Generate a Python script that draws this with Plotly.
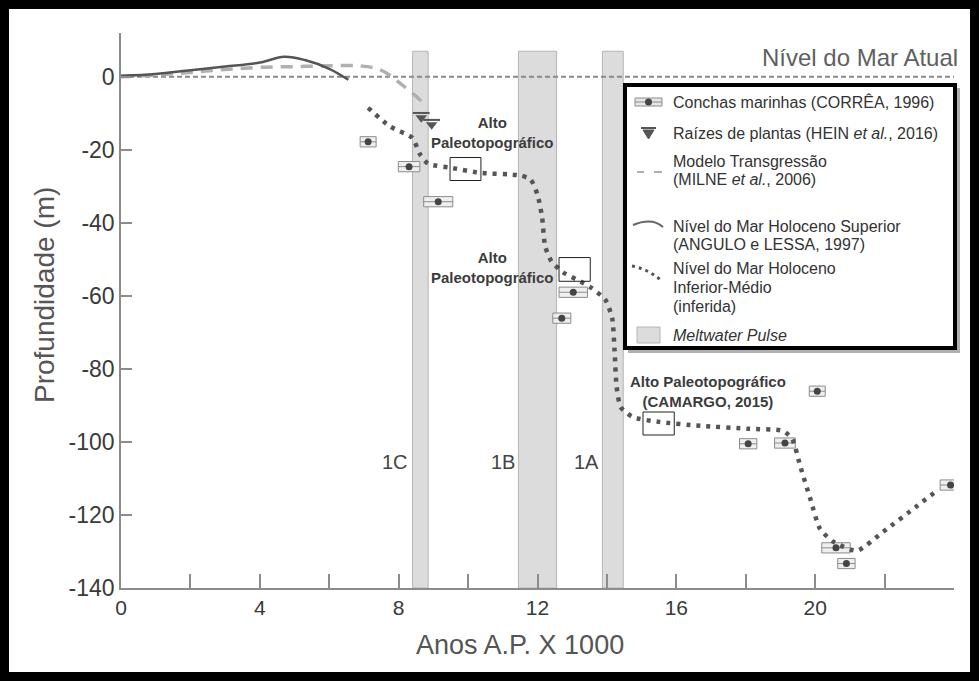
import plotly.graph_objects as go

# ---------------- data ----------------
x_tick_vals = [0, 2, 4, 6, 8, 10, 12, 14, 16, 18, 20, 22, 24]
x_tick_text = ["0", "", "4", "", "8", "", "12", "", "16", "", "20", "", ""]
y_tick_vals = [0, -20, -40, -60, -80, -100, -120, -140]
y_tick_text = ["0", "-20", "-40", "-60", "-80", "-100", "-120", "-140"]

# Meltwater pulses (ka BP)
pulse_names = ["1C", "1B", "1A"]
pulse_start = [8.4, 11.45, 13.87]
pulse_end = [8.85, 12.55, 14.47]
pulse_label_x = [7.9, 11.0, 13.4]
pulse_label_y = -105.5
pulse_top = 7.0

# Marine shells (CORRÊA, 1996)
shell_age = [7.12, 8.30, 9.14, 12.70, 13.03, 18.07, 19.13, 20.06, 20.60, 20.90, 23.90]
shell_depth = [-17.8, -24.6, -34.2, -66.1, -59.0, -100.5, -100.3, -86.1, -129.0, -133.3, -111.8]
shell_halfage = [0.23, 0.31, 0.42, 0.26, 0.41, 0.25, 0.30, 0.23, 0.41, 0.25, 0.30]
shell_halfdepth = 1.4

# Plant roots (HEIN et al., 2016)
root_age = [8.65, 8.95]
root_depth = [-11.2, -13.1]

# Upper Holocene sea level (ANGULO e LESSA, 1997)
angulo_age = [0, 1, 2, 3, 4, 4.7, 5.3, 6.0, 6.55]
angulo_level = [0.3, 0.8, 1.8, 2.8, 3.9, 5.5, 4.6, 2.2, -0.8]

# Transgression model (MILNE et al., 2006)
milne_age = [0, 1, 2, 3, 4, 5, 6, 6.9, 7.5, 8.1, 8.7]
milne_level = [0, 0.5, 1.2, 2.0, 2.6, 2.8, 3.0, 3.0, 1.8, -2.2, -7.0]

# Lower-Middle Holocene sea level (inferred)
inferred_age = [7.12, 7.75, 8.39, 8.62, 8.85, 9.5, 10.35, 11.5, 11.8, 12.0, 12.13,
                12.22, 12.4, 12.74, 13.23, 13.55, 13.95, 14.15, 14.22, 14.28, 14.4,
                14.75, 15.5, 16.7, 18.1, 19.08, 19.34, 19.57, 19.86, 20.14, 20.52,
                21.2, 21.96, 22.94, 23.5]
inferred_level = [-8.5, -13.6, -16.7, -21.3, -23.8, -24.9, -26.3, -27.0, -28.1, -32.3, -38.3,
                  -46.4, -50.5, -53.6, -56.0, -57.8, -61.0, -66.0, -75.0, -85.0, -90.5,
                  -93.2, -94.5, -95.6, -96.4, -97.0, -99.2, -106.6, -115.6, -123.8, -127.3,
                  -129.8, -124.6, -117.5, -113.4]

# Paleotopographic highs
alto_text = ["Alto<br>Paleotopográfico", "Alto<br>Paleotopográfico",
             "Alto Paleotopográfico<br>(CAMARGO, 2015)"]
alto_label_x = [10.69, 10.69, 16.92]
alto_label_y = [-15.2, -52.2, -86.3]
alto_box_x0 = [9.48, 12.62, 15.04]
alto_box_x1 = [10.37, 13.52, 15.94]
alto_box_top = [-22.1, -49.5, -91.8]
alto_box_bottom = [-28.4, -56.0, -98.1]

current_level_age = [0, 24]
current_level = [0, 0]

# ---------------- layout geometry helpers (pixels -> paper) ----------------
L, R, T, B = 121, 25, 33, 93
W, H = 979, 681
PW, PH = W - L - R, H - T - B


def px(x):
    return (x - L) / PW


def py(y):
    return (H - B - y) / PH


FONT = "Liberation Sans, Arial, sans-serif"
GREY_TXT = "#444444"

fig = go.Figure()

# current sea level
fig.add_trace(go.Scatter(x=current_level_age, y=current_level, mode="lines",
                         line=dict(color="#8a8a8a", width=2, dash="5px,3px"),
                         hoverinfo="skip", showlegend=False))
# Milne model
fig.add_trace(go.Scatter(x=milne_age, y=milne_level, mode="lines",
                         line=dict(color="#b0b0b0", width=3.5, dash="12px,8px", shape="spline"),
                         showlegend=False))
# Angulo & Lessa
fig.add_trace(go.Scatter(x=angulo_age, y=angulo_level, mode="lines",
                         line=dict(color="#555555", width=2.5, shape="spline"),
                         showlegend=False))
# inferred sea level
fig.add_trace(go.Scatter(x=inferred_age, y=inferred_level, mode="lines",
                         line=dict(color="#555555", width=4.5, dash="4px,6px", shape="spline",
                                   smoothing=0.6),
                         showlegend=False))

shapes = []
# meltwater pulse bands
for x0, x1 in zip(pulse_start, pulse_end):
    shapes.append(dict(type="rect", xref="x", yref="y", x0=x0, x1=x1, y0=-140, y1=pulse_top,
                       fillcolor="#dcdcdc", line=dict(color="#b5b5b5", width=1), layer="below"))

# shell boxes (under the centre dots)
for a, d, h in zip(shell_age, shell_depth, shell_halfage):
    shapes.append(dict(type="rect", xref="x", yref="y", x0=a - h, x1=a + h,
                       y0=d - shell_halfdepth, y1=d + shell_halfdepth, layer="below",
                       fillcolor="#efefef", line=dict(color="#8c8c8c", width=1)))
    shapes.append(dict(type="line", xref="x", yref="y", x0=a - h, x1=a + h, y0=d, y1=d,
                       layer="below", line=dict(color="#8c8c8c", width=1)))

# paleotopographic high boxes
for x0, x1, y0, y1 in zip(alto_box_x0, alto_box_x1, alto_box_bottom, alto_box_top):
    shapes.append(dict(type="rect", xref="x", yref="y", x0=x0, x1=x1, y0=y0, y1=y1,
                       line=dict(color="#222222", width=1)))

fig.add_trace(go.Scatter(x=shell_age, y=shell_depth, mode="markers",
                         marker=dict(color="#444444", size=7), showlegend=False))

# plant roots: bar + downward triangle
fig.add_trace(go.Scatter(x=root_age, y=[d + 1.3 for d in root_depth], mode="markers",
                         marker=dict(symbol="line-ew", size=12, line=dict(color="#555555", width=2)),
                         showlegend=False))
fig.add_trace(go.Scatter(x=root_age, y=root_depth, mode="markers",
                         marker=dict(symbol="triangle-down", size=10, color="#555555"),
                         showlegend=False))

annotations = []
for name, x in zip(pulse_names, pulse_label_x):
    annotations.append(dict(x=x, y=pulse_label_y, xref="x", yref="y", text=name, showarrow=False,
                            font=dict(family=FONT, size=20, color=GREY_TXT)))

for t, x, y in zip(alto_text, alto_label_x, alto_label_y):
    annotations.append(dict(x=x, y=y, xref="x", yref="y", text="<b>" + t + "</b>", showarrow=False,
                            xanchor="center", yanchor="middle",
                            font=dict(family=FONT, size=15, color="#3c3c3c")))

annotations.append(dict(x=21.29, y=5.2, xref="x", yref="y", text="Nível do Mar Atual",
                        showarrow=False, font=dict(family=FONT, size=24, color="#606060")))

# axis titles
annotations.append(dict(x=px(44), y=py(295), xref="paper", yref="paper", text="Profundidade (m)",
                        textangle=-90, showarrow=False, xanchor="center", yanchor="middle",
                        font=dict(family=FONT, size=28, color="#555555")))
annotations.append(dict(x=px(520), y=py(645), xref="paper", yref="paper", text="Anos A.P. X 1000",
                        showarrow=False, xanchor="center", yanchor="middle",
                        font=dict(family=FONT, size=27, color="#555555")))

# ---------------- legend box ----------------
shapes.append(dict(type="rect", xref="paper", yref="paper", x0=px(628), x1=px(960), y0=py(353),
                   y1=py(88), fillcolor="#b0b0b0", line=dict(width=0)))
shapes.append(dict(type="rect", xref="paper", yref="paper", x0=px(625), x1=px(955), y0=py(348),
                   y1=py(85), fillcolor="white", line=dict(color="black", width=4)))

# shell symbol
shapes.append(dict(type="rect", xref="paper", yref="paper", x0=px(635), x1=px(662), y0=py(106),
                   y1=py(98), fillcolor="#e6e6e6", line=dict(color="#8c8c8c", width=1)))
shapes.append(dict(type="line", xref="paper", yref="paper", x0=px(635), x1=px(662), y0=py(102),
                   y1=py(102), line=dict(color="#8c8c8c", width=1)))
shapes.append(dict(type="circle", xref="paper", yref="paper", x0=px(645), x1=px(652), y0=py(105.5),
                   y1=py(98.5), fillcolor="#444444", line=dict(width=0)))
# root symbol
shapes.append(dict(type="path", xref="paper", yref="paper",
                   path=f"M {px(643)} {py(130)} L {px(654)} {py(130)} L {px(648.5)} {py(139)} Z",
                   fillcolor="#555555", line=dict(color="#555555", width=1)))
shapes.append(dict(type="line", xref="paper", yref="paper", x0=px(641), x1=px(656), y0=py(128),
                   y1=py(128), line=dict(color="#555555", width=2)))
# dashed model symbol
for a, b in [(637, 644), (654, 662)]:
    shapes.append(dict(type="line", xref="paper", yref="paper", x0=px(a), x1=px(b), y0=py(172),
                       y1=py(172), line=dict(color="#b0b0b0", width=2)))
# solid curve symbol
shapes.append(dict(type="path", xref="paper", yref="paper",
                   path=f"M {px(633)} {py(225)} Q {px(652)} {py(217)} {px(663)} {py(227)}",
                   line=dict(color="#666666", width=2)))
# dotted symbol
shapes.append(dict(type="path", xref="paper", yref="paper",
                   path=f"M {px(632)} {py(266)} Q {px(648)} {py(269)} {px(662)} {py(281)}",
                   line=dict(color="#555555", width=3, dash="3px,4px")))
# meltwater symbol
shapes.append(dict(type="rect", xref="paper", yref="paper", x0=px(637), x1=px(660), y0=py(343),
                   y1=py(327), fillcolor="#dcdcdc", line=dict(color="#b5b5b5", width=1)))

legend_lines = [
    ("Conchas marinhas (CORRÊA, 1996)", 102),
    ("Raízes de plantas (HEIN <i>et al.</i>, 2016)", 133),
    ("Modelo Transgressão", 162),
    ("(MILNE <i>et al.</i>, 2006)", 180),
    ("Nível do Mar Holoceno Superior", 226),
    ("(ANGULO e LESSA, 1997)", 244),
    ("Nível do Mar Holoceno", 268),
    ("Inferior-Médio", 287),
    ("(inferida)", 306),
    ("<i>Meltwater Pulse</i>", 335),
]
for text, ypix in legend_lines:
    annotations.append(dict(x=px(671), y=py(ypix), xref="paper", yref="paper", text=text,
                            showarrow=False, xanchor="left", yanchor="middle",
                            font=dict(family=FONT, size=16, color="#333333")))

# outer frame
shapes.append(dict(type="rect", xref="paper", yref="paper", x0=px(4.5), x1=px(974.5),
                   y0=py(676.5), y1=py(4.5), line=dict(color="black", width=9)))

fig.update_layout(
    width=W, height=H,
    margin=dict(l=L, r=R, t=T, b=B),
    paper_bgcolor="white", plot_bgcolor="white",
    shapes=shapes, annotations=annotations, showlegend=False,
    xaxis=dict(range=[0, 24], tickmode="array", tickvals=x_tick_vals, ticktext=x_tick_text,
               ticks="inside", ticklen=14, tickwidth=1.5, tickcolor="#8c8c8c",
               showline=True, linecolor="#8c8c8c", linewidth=1.5, showgrid=False, zeroline=False,
               tickfont=dict(family=FONT, size=21, color="#3a3a3a")),
    yaxis=dict(range=[-140, 12], tickmode="array", tickvals=y_tick_vals, ticktext=y_tick_text,
               ticks="inside", ticklen=11, tickwidth=1.5, tickcolor="#8c8c8c",
               showline=True, linecolor="#8c8c8c", linewidth=1.5, showgrid=False, zeroline=False,
               tickfont=dict(family=FONT, size=23, color="#3a3a3a")),
)

fig.write_html("out.html")
